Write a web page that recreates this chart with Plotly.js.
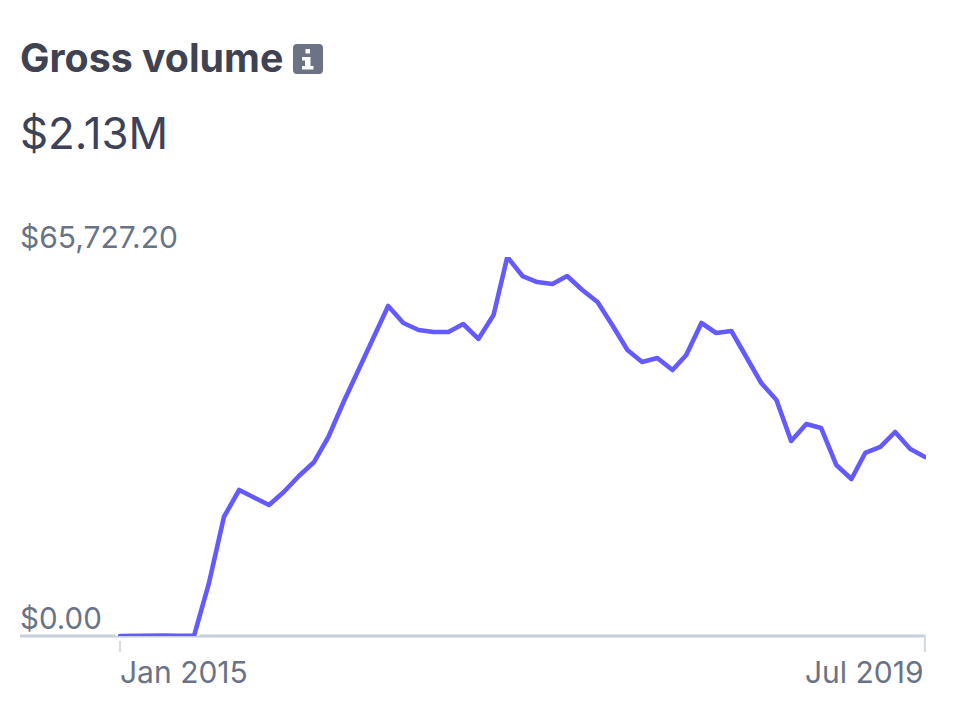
<!DOCTYPE html>
<html>
<head>
<meta charset="utf-8">
<script src="https://cdn.plot.ly/plotly-3.0.1.min.js"></script>
<style>html,body{margin:0;padding:0;background:#fff}#c{width:958px;height:708px}
path.js-line{stroke-linecap:round;stroke-linejoin:round}</style>
</head>
<body>
<div id="c"></div>
<script>
const months = ["2015-01","2015-02","2015-03","2015-04","2015-05","2015-06","2015-07","2015-08","2015-09","2015-10","2015-11","2015-12",
"2016-01","2016-02","2016-03","2016-04","2016-05","2016-06","2016-07","2016-08","2016-09","2016-10","2016-11","2016-12",
"2017-01","2017-02","2017-03","2017-04","2017-05","2017-06","2017-07","2017-08","2017-09","2017-10","2017-11","2017-12",
"2018-01","2018-02","2018-03","2018-04","2018-05","2018-06","2018-07","2018-08","2018-09","2018-10","2018-11","2018-12",
"2019-01","2019-02","2019-03","2019-04","2019-05","2019-06","2019-07"];
const volume = [0,50,150,80,20,30,9020,20640,25320,23930,22720,24970,27750,30180,34510,40580,46130,51680,57230,54280,53070,52730,52730,54110,51510,55670,65727,62430,61390,61040,62430,60000,57920,53940,49600,47520,48210,46130,48730,54280,52550,52890,48380,43880,40930,33820,36770,36080,29660,27230,31740,32780,35380,32430,31050];
const tickVals = ["2015-01-01","2019-07-01"];
const tickText = ["Jan 2015","Jul 2019"];
const titleText = "Gross volume";
const totalText = "$2.13M";
const yLabels = ["$0.00","$65,727.20"];
const yMax = 65727.20;

const font = "Inter, 'Noto Sans', sans-serif";
const plotL = 20, plotR = 926, yTop = 257, yZero = 636;
const x0ms = Date.parse("2015-01-01"), x1ms = Date.parse("2019-07-01");
const msPerPx = (x1ms - x0ms) / (925 - 120);
const xr = [x0ms - (120 - plotL) * msPerPx, x1ms + (plotR - 925) * msPerPx];

const data = [
  {type:"scatter",mode:"lines",x:months,y:volume,line:{color:"#ffffff",width:10},hoverinfo:"skip",cliponaxis:false},
  {type:"scatter",mode:"lines",x:months,y:volume,line:{color:"#635bff",width:4.6},hoverinfo:"skip",cliponaxis:false}
];
function pxA(x, y, text, size, color, anchor, weight) {
  return {xref:"paper",yref:"paper",x:(x-plotL)/(plotR-plotL),y:(yZero-y)/(yZero-yTop),text:text,showarrow:false,
    xanchor:anchor,yanchor:"middle",align:anchor,font:{family:font,size:size,color:color,weight:weight||400},borderpad:0,borderwidth:0};
}
function iconPath(d, fill) {
  return {type:"path",xref:"paper",yref:"paper",xsizemode:"pixel",ysizemode:"pixel",xanchor:0,yanchor:0,path:d,fillcolor:fill,line:{width:0},layer:"above"};
}
const X = v => v - plotL, Y = v => yZero - v;
const P = (c,x,y) => c + " " + X(x) + " " + Y(y);
const rrect = [P("M",297,44),P("L",319,44),"Q "+X(323)+" "+Y(44)+" "+X(323)+" "+Y(48),P("L",323,70),"Q "+X(323)+" "+Y(74)+" "+X(319)+" "+Y(74),P("L",297,74),"Q "+X(293)+" "+Y(74)+" "+X(293)+" "+Y(70),P("L",293,48),"Q "+X(293)+" "+Y(44)+" "+X(297)+" "+Y(44),"Z"].join(" ");
const iDot = [P("M",305.5,49),P("L",310,49),P("L",310,53.5),P("L",305.5,53.5),"Z"].join(" ");
const iBody = [P("M",302,57),P("L",310.5,57),P("L",310.5,66),P("L",313.5,66),P("L",313.5,69.5),P("L",302,69.5),P("L",302,66),P("L",305,66),P("L",305,60.5),P("L",302,60.5),"Z"].join(" ");

const layout = {
  width:958,height:708,paper_bgcolor:"#fff",plot_bgcolor:"#fff",showlegend:false,
  margin:{l:plotL,r:958-plotR,t:yTop,b:708-yZero,pad:0},
  font:{family:font},
  xaxis:{type:"date",range:xr.map(v=>new Date(v).toISOString()),showgrid:false,zeroline:false,showline:false,tickmode:"array",tickvals:[],ticks:"",showticklabels:false},
  yaxis:{range:[0,yMax],showgrid:false,zeroline:false,showline:false,tickmode:"array",tickvals:[],showticklabels:false,fixedrange:true},
  shapes:[
    {type:"line",xref:"paper",yref:"paper",x0:0,x1:1,y0:0,y1:0,line:{color:"#c6ceda",width:3},layer:"below"},
    {type:"line",xref:"x",yref:"paper",x0:tickVals[0],x1:tickVals[0],yanchor:0,ysizemode:"pixel",y0:-5,y1:-16,line:{color:"#d5dbe3",width:2}},
    {type:"line",xref:"x",yref:"paper",x0:tickVals[1],x1:tickVals[1],yanchor:0,ysizemode:"pixel",y0:1,y1:-16,line:{color:"#d5dbe3",width:2.5}},
    iconPath(rrect,"#6b7385"),iconPath(iDot,"#ffffff"),iconPath(iBody,"#ffffff")
  ],
  annotations:[
    pxA(20,57,titleText,39.3,"#3f4251","left",700),
    pxA(20,133,totalText,43.8,"#3c4257","left"),
    pxA(20,237,yLabels[1],30,"#697386","left"),
    pxA(20,618,yLabels[0],29.5,"#697386","left"),
    pxA(120,672,tickText[0],30,"#697386","left"),
    pxA(924,672,tickText[1],30,"#697386","right")
  ]
};
Plotly.newPlot("c",data,layout,{displayModeBar:false,staticPlot:true});
</script>
</body>
</html>
